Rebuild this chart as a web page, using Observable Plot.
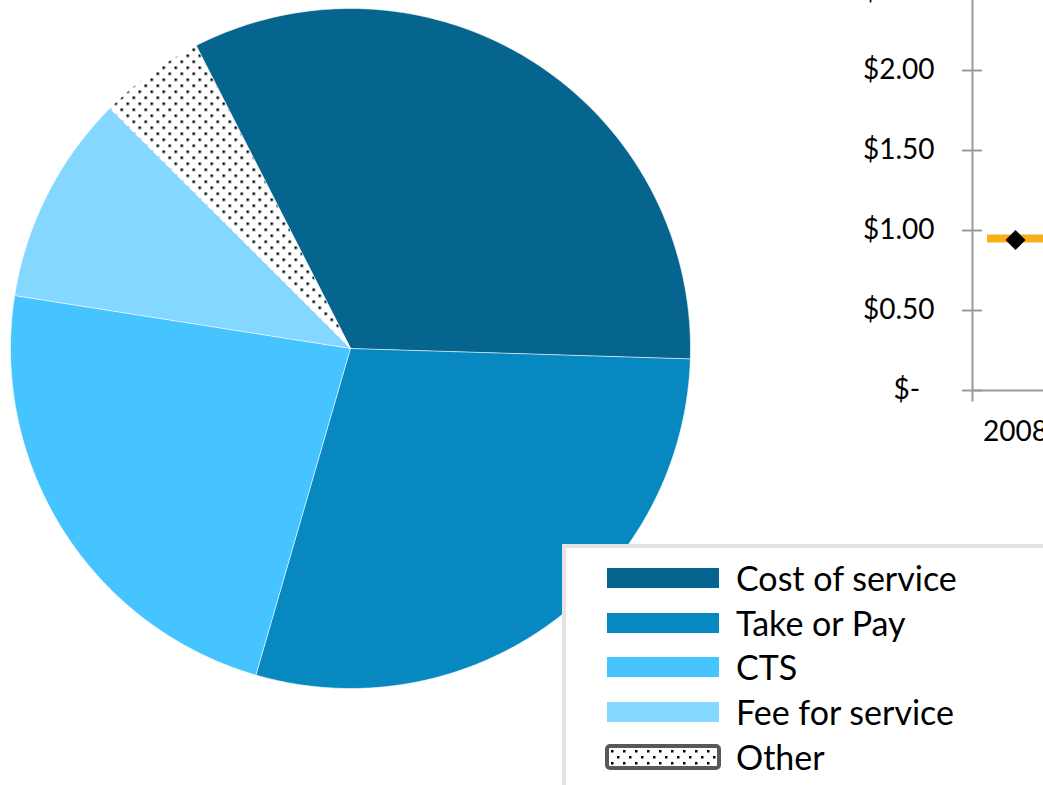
<!DOCTYPE html>
<html><head><meta charset="utf-8">
<script src="https://cdn.jsdelivr.net/npm/d3@7"></script>
<script src="https://cdn.jsdelivr.net/npm/@observablehq/plot@0.6"></script>
<style>
body{margin:0;background:#fff;}
#wrap{position:relative;width:1043px;height:785px;overflow:hidden;background:#fff;font-family:Lato, "Open Sans", sans-serif;}
#pie{position:absolute;left:0;top:0;}
#line{position:absolute;left:840px;top:-40px;}
#legend{position:absolute;left:562px;top:544px;width:540px;height:300px;background:#fff;border:4px solid #e4e4e4;box-sizing:border-box;padding-top:7.6px;}
.row{display:flex;align-items:center;height:44.75px;}
.sw{width:112px;height:20px;margin-left:41px;margin-right:17px;flex:none;}
.swo{width:116px;height:26px;margin-left:39px;margin-right:15px;flex:none;display:block;}
.lab{font-size:34px;color:#000;line-height:1;white-space:nowrap;}
</style></head><body>
<div id="wrap"><div id="pie"></div><div id="line"></div><div id="legend"></div></div>
<script>
// ---- data ----
const categories = ["Cost of service", "Take or Pay", "CTS", "Fee for service", "Other"];
const shares = [33, 29, 23, 10, 5];
const sliceColors = ["#05658F", "#0788C1", "#45C4FF", "#84D7FF", "url(#dots)"];
const years = ["2008", "2009"];
const dashYears = ["2008"];
const dashValues = [0.95];
const markerYears = ["2008"];
const markerValues = [0.94];
const yTicks = [0, 0.5, 1, 1.5, 2, 2.5];

// ---- pattern defs ----
function dotsDefs() {
  const g = d3.create("svg:g");
  const pat = g.append("defs").append("pattern")
    .attr("id", "dots").attr("patternUnits", "userSpaceOnUse")
    .attr("width", 12).attr("height", 12);
  pat.append("rect").attr("width", 12).attr("height", 12).attr("fill", "white");
  pat.append("rect").attr("x", 0).attr("y", 0).attr("width", 2.5).attr("height", 2.5).attr("fill", "black");
  pat.append("rect").attr("x", 6).attr("y", 6).attr("width", 2.5).attr("height", 2.5).attr("fill", "black");
  return g.node();
}

// ---- pie geometry from the shares ----
const startA = -27.05 * Math.PI / 180;
const arcs = d3.pie().sort(null).startAngle(startA).endAngle(startA + 2 * Math.PI)(shares);
const pts = [];
arcs.forEach((p, i) => {
  const name = categories[i];
  pts.push({name, x: 0, y: 0});
  const n = Math.max(2, Math.ceil((p.endAngle - p.startAngle) / (Math.PI / 360)));
  for (let k = 0; k <= n; k++) {
    const a = p.startAngle + (p.endAngle - p.startAngle) * k / n;
    pts.push({name, x: Math.sin(a), y: -Math.cos(a)});
  }
});

const piePlot = Plot.plot({
  width: 700, height: 700, margin: 0,
  x: {domain: [-1, 1], range: [10, 690], axis: null},
  y: {domain: [-1, 1], range: [8, 688], axis: null},
  color: {domain: categories, range: sliceColors},
  style: {background: "transparent"},
  marks: [
    dotsDefs,
    Plot.line(pts, {x: "x", y: "y", z: "name", fill: "name", stroke: "white", strokeWidth: 0.6, curve: "linear-closed"})
  ]
});
piePlot.style.maxWidth = "none";
document.getElementById("pie").appendChild(piePlot);

// ---- partial line chart ----
const fmt = d => d === 0 ? "$-\u00a0\u00a0" : "$" + d.toFixed(2);
const axisGray = "#9a9a9a";
const linePlot = Plot.plot({
  width: 304, height: 500, marginTop: 0, marginBottom: 60, marginLeft: 132, marginRight: 0,
  x: {type: "band", domain: years, padding: 0},
  y: {domain: [0, 2.5], range: [430, 30]},
  style: {background: "transparent", fontFamily: "Lato, sans-serif", fontSize: "28px", color: "#000"},
  marks: [
    Plot.frame({anchor: "left", stroke: axisGray, strokeWidth: 2}),
    Plot.ruleY([0], {stroke: axisGray, strokeWidth: 2}),
    Plot.axisY({ticks: yTicks, tickSize: 20, dx: 10, tickFormat: () => "", stroke: axisGray, strokeWidth: 2, label: null}),
    Plot.axisY({ticks: yTicks, tickSize: 0, tickPadding: 38, tickFormat: fmt, fill: "#000", fontSize: 28, label: null}),
    Plot.axisX({tickSize: 0, tickPadding: 21, fill: "#000", fontSize: 28, label: null}),
    Plot.tickY(dashValues, {x: (d, i) => dashYears[i], y: d => d, stroke: "#F9AE1B", strokeWidth: 8, insetLeft: 15, insetRight: 15}),
    Plot.dot(markerValues, {x: (d, i) => markerYears[i], y: d => d, symbol: "diamond2", r: 9, fill: "black", stroke: null})
  ]
});
linePlot.style.maxWidth = "none";
document.getElementById("line").appendChild(linePlot);

// ---- legend ----
const legend = d3.select("#legend");
categories.forEach((c, i) => {
  const row = legend.append("div").attr("class", "row");
  if (c === "Other") {
    const s = row.append("svg").attr("class", "swo").attr("width", 116).attr("height", 26);
    s.append("rect").attr("x", 2).attr("y", 2).attr("width", 112).attr("height", 22).attr("rx", 3)
      .attr("fill", sliceColors[i]).attr("stroke", "#595959").attr("stroke-width", 4);
  } else {
    row.append("div").attr("class", "sw").style("background", sliceColors[i]);
  }
  row.append("div").attr("class", "lab").text(c);
});
</script>
</body></html>
